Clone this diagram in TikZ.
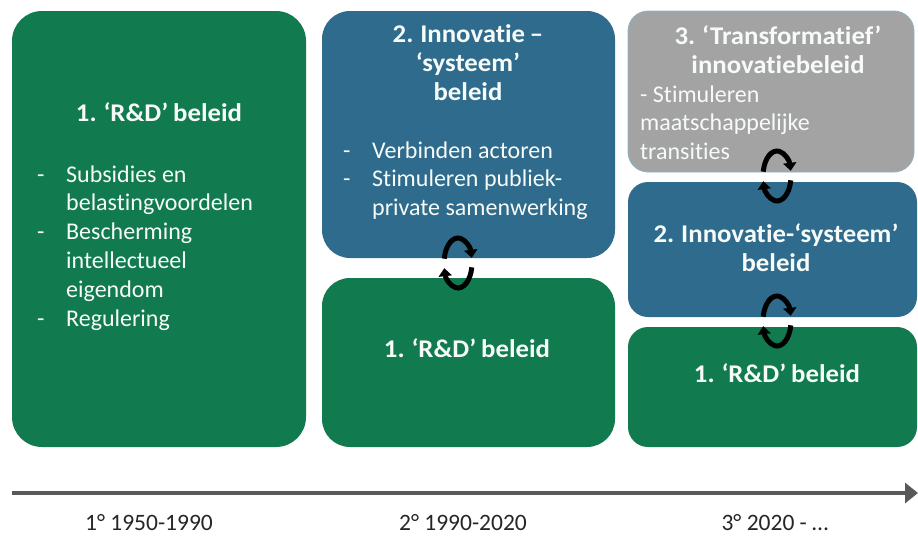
\documentclass[tikz,border=0pt]{standalone}
\usepackage{fontspec}
\setmainfont{Carlito}[Ligatures=NoCommon]
\newfontfamily\titlefont{Carlito}[Ligatures=NoCommon, FakeStretch=1.05, WordSpace=0.8]
\usetikzlibrary{arrows.meta}
\definecolor{rdgreen}{HTML}{117A4F}
\definecolor{sysblue}{HTML}{2F6B8C}
\definecolor{trgray}{HTML}{A3A3A3}
\definecolor{trborder}{HTML}{8DB3C7}
\definecolor{axisgray}{HTML}{595959}
\definecolor{boxtext}{HTML}{F6FBF8}
\definecolor{labeltext}{HTML}{262626}
\begin{document}
\begin{tikzpicture}[x=1pt,y=-1pt,
  box/.style={rectangle, rounded corners=#1, inner sep=0pt, outer sep=0pt, anchor=north west},
  titletext/.style={text=boxtext, inner sep=0pt, anchor=base, font=\titlefont\bfseries\fontsize{25.5}{29}\selectfont},
  bodytext/.style={text=boxtext, inner sep=0pt, anchor=base west, font=\fontsize{24}{28.8}\selectfont},
  periodtext/.style={text=labeltext, inner sep=0pt, anchor=base, font=\fontsize{23.5}{26}\selectfont},
  cyc/.style={line width=5pt, black, -{Triangle[width=13pt,length=8pt]}},
  axis/.style={line width=4pt, axisgray, -{Triangle[width=20pt,length=13pt]}},
  cycleicon/.pic={
    \draw[cyc] ({14*cos(-170)},{25*sin(-170)}) arc[start angle=-170, end angle=-12, x radius=14, y radius=25];
    \draw[cyc] ({14*cos(10)},{25*sin(10)}) arc[start angle=10, end angle=168, x radius=14, y radius=25];
  }]
\useasboundingbox (0,0) rectangle (918,538);

% column 1
\node[box=30pt, fill=rdgreen, minimum width=294pt, minimum height=436pt] (b1) at (12,11) {};
\node[titletext] (t1) at (159,121) {1. ‘R\&D’ beleid};
\node[bodytext] (l1) at (37,182) {\begin{tabular}[t]{@{}p{29pt}@{}l@{}}
-&Subsidies en\\
 &belastingvoordelen\\
-&Bescherming\\
 &intellectueel\\
 &eigendom\\
-&Regulering
\end{tabular}};

% column 2
\node[box=28pt, fill=sysblue, minimum width=293pt, minimum height=247pt] (b2s) at (322,11) {};
\node[titletext] (t2s) at (468,42) {\begin{tabular}[t]{@{}c@{}}2. Innovatie –\\‘systeem’\\beleid\end{tabular}};
\node[bodytext] (l2s) at (343,158) {\begin{tabular}[t]{@{}p{29pt}@{}l@{}}
-&Verbinden actoren\\
-&Stimuleren publiek-\\
 &private samenwerking
\end{tabular}};
\node[box=28pt, fill=rdgreen, minimum width=293pt, minimum height=169pt] (b2r) at (322,278) {};
\node[titletext] (t2r) at (467,357) {1. ‘R\&D’ beleid};

% column 3
\node[box=20pt, fill=trgray, draw=trborder, line width=0.8pt, minimum width=286pt, minimum height=161pt] (b3t) at (628,11) {};
\node[titletext] (t3t) at (778,44) {\begin{tabular}[t]{@{}c@{}}3. ‘Transformatief’\\innovatiebeleid\end{tabular}};
\node[bodytext] (l3t) at (640,102) {\begin{tabular}[t]{@{}l@{}}- Stimuleren\\maatschappelijke\\transities\end{tabular}};
\node[box=20pt, fill=sysblue, minimum width=289pt, minimum height=135pt] (b3s) at (628,182) {};
\node[titletext] (t3s) at (776,242) {\begin{tabular}[t]{@{}c@{}}2. Innovatie-‘systeem’\\beleid\end{tabular}};
\node[box=20pt, fill=rdgreen, minimum width=289pt, minimum height=120pt] (b3r) at (628,327) {};
\node[titletext] (t3r) at (777,382) {1. ‘R\&D’ beleid};

% cycle icons
\pic at (458,263) {cycleicon};
\pic at (777,176) {cycleicon};
\pic at (777,321) {cycleicon};

% time axis
\coordinate (axL) at (12,493);
\coordinate (axR) at (918,493);
\draw[axis] (axL) -- (axR);
\node[periodtext] (p1) at (149,530) {1° 1950-1990};
\node[periodtext] (p2) at (463,530) {2° 1990-2020};
\node[periodtext] (p3) at (775,530) {3° 2020 - …};
\end{tikzpicture}
\end{document}
